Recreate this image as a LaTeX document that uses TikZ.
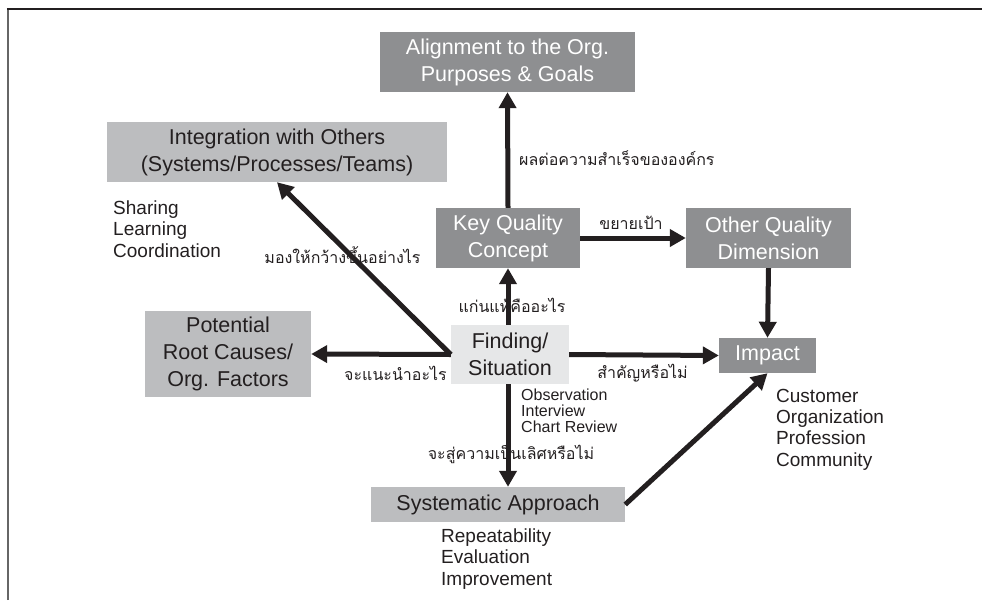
\documentclass[tikz,border=0pt]{standalone}
\usepackage{fontspec}
\setmainfont{Liberation Sans}
\newfontfamily\thaifont[Script=Thai]{Loma}
\usetikzlibrary{arrows.meta}

\definecolor{boxdark}{HTML}{8E8F91}
\definecolor{boxmid}{HTML}{BCBDBF}
\definecolor{boxlight}{HTML}{E6E7E8}
\definecolor{ink}{HTML}{231F20}

\tikzset{
	box/.style = {inner sep=0pt, align=center, font=\fontsize{21.5}{27}\selectfont},
	darkbox/.style = {box, fill=boxdark, text=white},
	midbox/.style = {box, fill=boxmid, text=ink},
	lightbox/.style = {box, fill=boxlight, text=ink},
	notes/.style = {anchor=west, inner sep=0pt, align=left, text=ink, font=\fontsize{19}{21.3}\selectfont},
	thailabel/.style = {inner sep=0pt, text=ink, font=\thaifont\fontsize{16}{16}\selectfont},
	bigarrow/.style = {draw=ink, line width=5pt, -{Triangle[length=16pt,width=17pt]}}
}

\begin{document}
\begin{tikzpicture}[x=1pt, y=-1pt]

		\useasboundingbox (0,0) rectangle (982,600);

		% frame
		\draw[line width=2.5pt, gray!80!black] (8,600) -- (8,9);
		\draw[line width=2.5pt, ink] (6.75,9) -- (982,9);

		% boxes
		\node[darkbox, minimum width=255pt, minimum height=60pt] (align) at (507.5,62) {Alignment to the Org.\\Purposes \& Goals};
		\node[midbox, minimum width=340pt, minimum height=60pt] (integ) at (277,152) {Integration with Others\\(Systems/Processes/Teams)};
		\node[darkbox, minimum width=144pt, minimum height=60pt] (key) at (508,238) {Key Quality\\Concept};
		\node[darkbox, minimum width=165pt, minimum height=60pt] (other) at (768.5,238) {Other Quality\\Dimension};
		\node[midbox, minimum width=166pt, minimum height=86pt] (root) at (228,354) {Potential\\Root Causes/\\Org. Factors};
		\node[lightbox, minimum width=118pt, minimum height=59pt] (finding) at (510,354.5) {Finding/\\Situation};
		\node[darkbox, minimum width=97pt, minimum height=35pt] (impact) at (767.5,355.5) {Impact};
		\node[midbox, minimum width=254pt, minimum height=35pt] (system) at (498,504.5) {Systematic Approach};

		% lists
		\node[notes] (sharing) at (113,229) {Sharing\\Learning\\Coordination};
		\node[notes, font=\fontsize{16}{16}\selectfont] (observe) at (521,411) {Observation\\Interview\\Chart Review};
		\node[notes] (customer) at (776,429.5) {Customer\\Organization\\Profession\\Community};
		\node[notes] (repeat) at (441,559) {Repeatability\\Evaluation\\Improvement};

		% arrows
		\draw[bigarrow] (key.north) -- (align.south);
		\draw[bigarrow] (key.east) -- (other.west);
		\draw[bigarrow] (key |- finding.north) -- (key.south);
		\draw[bigarrow] (finding.west) -- (integ.south);
		\draw[bigarrow] (finding.west) -- (root.east);
		\draw[bigarrow] (finding.east) -- (impact.west);
		\draw[bigarrow] (other.south) -- (impact.north);
		\draw[bigarrow] (key |- finding.south) -- (key |- system.north);
		\draw[bigarrow] (system.east) -- (impact.south);

		% Thai labels
		\node[thailabel, anchor=west] (lbsuccess) at (519,158) {ผลต่อความสำเร็จขององค์กร};
		\node[thailabel] (lbexpand) at (631,223) {ขยายเป้า};
		\node[thailabel] (lbwider) at (342.5,255) {มองให้กว้างขึ้นอย่างไร};
		\node[thailabel] (lbcore) at (512,305) {แก่นแท้คืออะไร};
		\node[thailabel] (lbadvise) at (395.5,373) {จะแนะนำอะไร};
		\node[thailabel] (lbmatter) at (642.5,373) {สำคัญหรือไม่};
		\node[thailabel] (lbexcel) at (511,454) {จะสู่ความเป็นเลิศหรือไม่};

	\end{tikzpicture}
\end{document}
